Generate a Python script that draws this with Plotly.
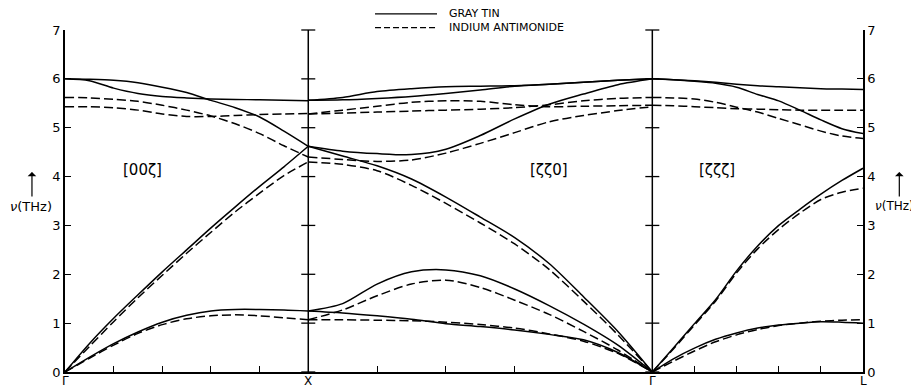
import numpy as np
import plotly.graph_objects as go

SQ2 = np.sqrt(2.0)
SQ3 = np.sqrt(3.0)
X_POS = 1.0
G2_POS = 1.0 + SQ2
L_POS = G2_POS + SQ3 / 2.0

# ---------------- [00ζ]  Γ -> X ----------------
zeta_00z = [0.0, 0.1, 0.2, 0.3, 0.4, 0.5, 0.6, 0.7, 0.8, 0.9, 1.0]
tin_00z_TA = [0.0, 0.30, 0.58, 0.82, 1.02, 1.16, 1.25, 1.28, 1.28, 1.27, 1.25]
tin_00z_LA = [0.0, 0.58, 1.10, 1.58, 2.05, 2.50, 2.95, 3.38, 3.80, 4.20, 4.62]
tin_00z_LO = [6.00, 5.99, 5.97, 5.92, 5.83, 5.72, 5.56, 5.41, 5.22, 4.93, 4.62]
tin_00z_TO = [6.00, 5.96, 5.81, 5.70, 5.64, 5.61, 5.59, 5.58, 5.57, 5.56, 5.55]
insb_00z_TA = [0.0, 0.28, 0.55, 0.79, 0.97, 1.09, 1.15, 1.17, 1.15, 1.11, 1.07]
insb_00z_LA = [0.0, 0.52, 1.03, 1.52, 1.98, 2.43, 2.86, 3.28, 3.66, 4.02, 4.30]
insb_00z_LO = [5.62, 5.61, 5.58, 5.54, 5.46, 5.36, 5.24, 5.08, 4.88, 4.63, 4.40]
insb_00z_TO = [5.43, 5.43, 5.41, 5.36, 5.28, 5.23, 5.23, 5.25, 5.27, 5.28, 5.29]

# ---------------- [ζζ0]  X -> Γ ----------------
zeta_zz0 = [1.0, 0.9, 0.8, 0.7, 0.6, 0.5, 0.4, 0.3, 0.2, 0.1, 0.0]
tin_zz0_TA1 = [1.25, 1.21, 1.15, 1.08, 0.99, 0.93, 0.86, 0.77, 0.66, 0.40, 0.0]
tin_zz0_TA2 = [1.25, 1.40, 1.80, 2.05, 2.09, 1.97, 1.70, 1.36, 0.98, 0.55, 0.0]
tin_zz0_LA = [4.62, 4.42, 4.22, 3.95, 3.58, 3.17, 2.75, 2.22, 1.54, 0.83, 0.0]
tin_zz0_LO = [4.62, 4.52, 4.47, 4.45, 4.56, 4.84, 5.18, 5.48, 5.69, 5.88, 6.00]
tin_zz0_TO1 = [5.56, 5.62, 5.74, 5.80, 5.84, 5.85, 5.86, 5.89, 5.93, 5.97, 6.00]
tin_zz0_TO2 = [5.56, 5.57, 5.60, 5.64, 5.70, 5.77, 5.85, 5.89, 5.93, 5.97, 6.00]
insb_zz0_TA1 = [1.07, 1.07, 1.06, 1.05, 1.02, 0.97, 0.90, 0.78, 0.63, 0.38, 0.0]
insb_zz0_TA2 = [1.07, 1.27, 1.56, 1.80, 1.88, 1.73, 1.47, 1.18, 0.83, 0.45, 0.0]
insb_zz0_LA = [4.30, 4.25, 4.12, 3.82, 3.45, 3.05, 2.62, 2.10, 1.45, 0.76, 0.0]
insb_zz0_LO = [4.40, 4.35, 4.31, 4.34, 4.48, 4.68, 4.90, 5.12, 5.25, 5.35, 5.43]
insb_zz0_TO1 = [5.28, 5.36, 5.44, 5.52, 5.55, 5.54, 5.47, 5.43, 5.44, 5.45, 5.46]
insb_zz0_TO2 = [5.28, 5.30, 5.32, 5.34, 5.36, 5.38, 5.41, 5.47, 5.55, 5.60, 5.62]

# ---------------- [ζζζ]  Γ -> L ----------------
zeta_zzz = [0.0, 0.05, 0.1, 0.15, 0.2, 0.25, 0.3, 0.35, 0.4, 0.45, 0.5]
tin_zzz_TA = [0.0, 0.27, 0.49, 0.67, 0.80, 0.90, 0.96, 1.00, 1.03, 1.02, 1.00]
tin_zzz_LA = [0.0, 0.49, 0.99, 1.48, 2.07, 2.58, 3.00, 3.33, 3.64, 3.92, 4.17]
tin_zzz_LO = [6.00, 5.98, 5.95, 5.91, 5.83, 5.68, 5.55, 5.36, 5.16, 4.98, 4.88]
tin_zzz_TO = [6.00, 5.98, 5.96, 5.93, 5.89, 5.86, 5.84, 5.82, 5.80, 5.79, 5.78]
insb_zzz_TA = [0.0, 0.22, 0.43, 0.62, 0.76, 0.87, 0.95, 1.00, 1.04, 1.06, 1.07]
insb_zzz_LA = [0.0, 0.47, 0.96, 1.45, 2.03, 2.52, 2.92, 3.25, 3.53, 3.68, 3.76]
insb_zzz_LO = [5.62, 5.61, 5.59, 5.52, 5.42, 5.32, 5.19, 5.06, 4.93, 4.83, 4.78]
insb_zzz_TO = [5.46, 5.45, 5.43, 5.41, 5.39, 5.38, 5.37, 5.36, 5.36, 5.36, 5.36]

# axis tick labels
y_ticks = [0, 1, 2, 3, 4, 5, 6, 7]
point_labels = ["Γ", "X", "Γ", "L"]
direction_labels = ["[00ζ]", "[ζζ0]", "[ζζζ]"]
series_names = ["GRAY TIN", "INDIUM ANTIMONIDE"]

# path coordinates
x_00z = [z for z in zeta_00z]
x_zz0 = [X_POS + (1.0 - z) * SQ2 for z in zeta_zz0]
x_zzz = [G2_POS + z * SQ3 for z in zeta_zzz]
point_pos = [0.0, X_POS, G2_POS, L_POS]

fig = go.Figure()

solid = dict(color="black", width=1.5, shape="spline", smoothing=0.8)
dashed = dict(color="black", width=1.5, shape="spline", smoothing=0.8, dash="9px,4px")

branches = [
    (x_00z, [tin_00z_TA, tin_00z_LA, tin_00z_LO, tin_00z_TO], solid),
    (x_00z, [insb_00z_TA, insb_00z_LA, insb_00z_LO, insb_00z_TO], dashed),
    (x_zz0, [tin_zz0_TA1, tin_zz0_TA2, tin_zz0_LA, tin_zz0_LO, tin_zz0_TO1, tin_zz0_TO2], solid),
    (x_zz0, [insb_zz0_TA1, insb_zz0_TA2, insb_zz0_LA, insb_zz0_LO, insb_zz0_TO1, insb_zz0_TO2], dashed),
    (x_zzz, [tin_zzz_TA, tin_zzz_LA, tin_zzz_LO, tin_zzz_TO], solid),
    (x_zzz, [insb_zzz_TA, insb_zzz_LA, insb_zzz_LO, insb_zzz_TO], dashed),
]
for xs, ys_list, style in branches:
    for ys in ys_list:
        fig.add_trace(go.Scatter(x=xs, y=ys, mode="lines", line=style,
                                 showlegend=False, hoverinfo="skip"))

# vertical separator lines at X and Γ with cross ticks
for xp in [X_POS, G2_POS]:
    fig.add_trace(go.Scatter(x=[xp, xp], y=[y_ticks[0], y_ticks[-1]], mode="lines",
                             line=dict(color="black", width=1.5),
                             showlegend=False, hoverinfo="skip"))
    fig.add_trace(go.Scatter(x=[xp] * len(y_ticks), y=y_ticks, mode="markers",
                             marker=dict(symbol="line-ew", size=10,
                                         line=dict(color="black", width=1.3)),
                             showlegend=False, hoverinfo="skip", cliponaxis=False))

# dummy trace for right axis
fig.add_trace(go.Scatter(x=[L_POS], y=[0], yaxis="y2", mode="markers",
                         marker=dict(opacity=0), showlegend=False, hoverinfo="skip"))

# bottom ticks (labels drawn as annotations so they sit inside the page)
tickvals = list(x_00z[::2]) + [X_POS + (1.0 - z) * SQ2 for z in [0.8, 0.6, 0.4, 0.2, 0.0]] \
    + [G2_POS + z * SQ3 for z in [0.1, 0.2, 0.3, 0.4, 0.5]]

FONT = "DejaVu Sans"
# the page body adds an 8 px offset, so the figure is 8 px smaller than the window
fig.update_layout(
    width=911, height=381,
    margin=dict(l=57, r=56, t=22, b=17, autoexpand=False),
    paper_bgcolor="white", plot_bgcolor="white",
    font=dict(family=FONT, color="black", size=13),
    xaxis=dict(range=[0, L_POS], showgrid=False, zeroline=False, showline=True,
               linecolor="black", linewidth=1.5, ticks="inside", ticklen=6,
               tickcolor="black", tickwidth=1.2, tickvals=tickvals,
               showticklabels=False, mirror=False, automargin=False),
    yaxis=dict(range=[0, 7], showgrid=False, zeroline=False, showline=True,
               linecolor="black", linewidth=1.5, ticks="inside", ticklen=6,
               tickcolor="black", tickwidth=1.2, tickvals=y_ticks,
               tickfont=dict(size=13), automargin=False),
    yaxis2=dict(range=[0, 7], overlaying="y", side="right", showgrid=False,
                zeroline=False, showline=True, linecolor="black", linewidth=1.5,
                ticks="inside", ticklen=6, tickcolor="black", tickwidth=1.2,
                tickvals=y_ticks, tickfont=dict(size=13), automargin=False),
    showlegend=False,
)

# symmetry point labels under the axis
for xp, lab in zip(point_pos, point_labels):
    fig.add_annotation(x=xp, y=-0.0495, xref="x", yref="paper", text=lab,
                       showarrow=False, yanchor="bottom", borderpad=0,
                       font=dict(size=12, family=FONT))

# direction labels
for xl, txt in zip([0.32, 1.99, 2.68], direction_labels):
    fig.add_annotation(x=xl, y=4.13, xref="x", yref="y", text=txt, showarrow=False,
                       font=dict(size=15, family=FONT))

# manual legend
for yp, nm, dsh in [(1.047, series_names[0], "solid"), (1.007, series_names[1], "6px,3px")]:
    fig.add_shape(type="line", xref="paper", yref="paper", x0=0.3885, x1=0.4662,
                  y0=yp, y1=yp, line=dict(color="black", width=1.3, dash=dsh))
    fig.add_annotation(x=0.479, y=yp, xref="paper", yref="paper", text=nm,
                       showarrow=False, xanchor="left", yanchor="middle",
                       font=dict(size=11, family=FONT))

# axis titles with arrows
for xa, xt, anchor, fs in [(-0.0414, -0.043, "center", 13), (1.0455, 1.0125, "left", 12)]:
    fig.add_annotation(x=xa, y=0.585, xref="paper", yref="paper", text="",
                       showarrow=True, arrowhead=1, arrowsize=1.2, arrowwidth=1.2,
                       ax=0, ay=26, arrowcolor="black")
    fig.add_annotation(x=xt, y=0.485, xref="paper", yref="paper",
                       text="<i>ν</i>(THz)", showarrow=False, xanchor=anchor,
                       font=dict(size=fs, family=FONT))

fig.write_html("out.html")
